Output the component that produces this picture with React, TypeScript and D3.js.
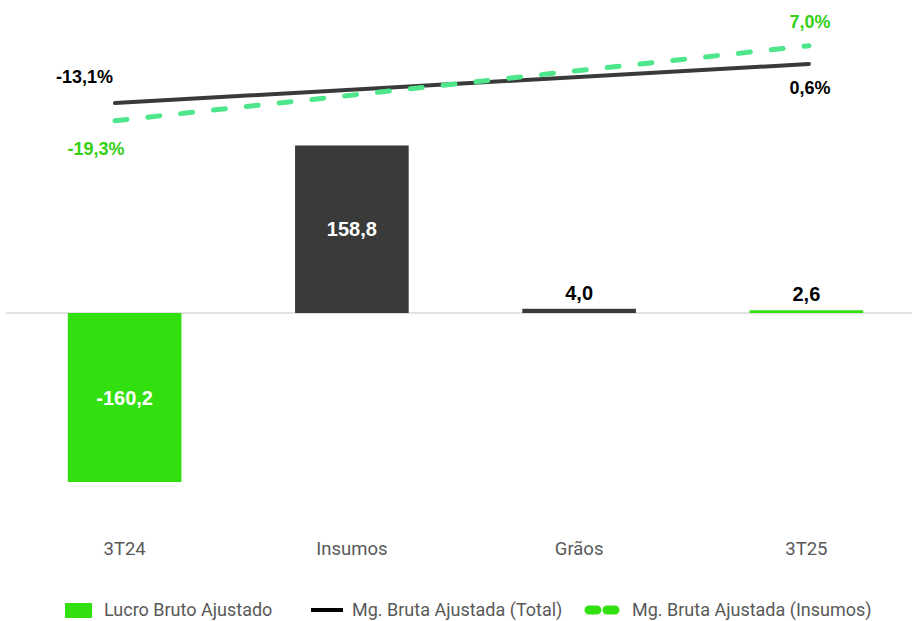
import React, { useRef, useEffect } from 'react';
import * as d3 from 'd3';

const categories = ['3T24', 'Insumos', 'Grãos', '3T25'];
const barValues = [-160.2, 158.8, 4.0, 2.6];
const barLabels = ['-160,2', '158,8', '4,0', '2,6'];
const lineCategories = ['3T24', '3T25'];
const marginTotal = [-13.1, 0.6];
const marginTotalLabels = ['-13,1%', '0,6%'];
const marginInsumos = [-19.3, 7.0];
const marginInsumosLabels = ['-19,3%', '7,0%'];
const legendLabels = ['Lucro Bruto Ajustado', 'Mg. Bruta Ajustada (Total)', 'Mg. Bruta Ajustada (Insumos)'];

const GREEN = '#33e00f';
const DARK = '#3a3a3a';
const MINT = '#4de68a';
const GRAY = '#595959';

const App = () => {
  const ref = useRef<SVGSVGElement>(null);

  useEffect(() => {
    const svg = d3.select(ref.current);
    svg.selectAll('*').remove();

    const font = 'Liberation Sans, Arial, sans-serif';
    const labelFont = 'Roboto, sans-serif';

    const x = d3.scaleBand().domain(categories).range([11, 920]).paddingInner(0.5).paddingOuter(0.25);
    const y = d3.scaleLinear().domain([-200, 200]).range([524, 102]);
    const xLine = d3.scalePoint().domain(categories).range([115, 809]);
    const yLine = d3.scaleLinear().domain([-20, 10]).range([122.7, 37.2]);

    // baseline
    svg.append('line')
      .attr('x1', 6).attr('x2', 912)
      .attr('y1', y(0)).attr('y2', y(0))
      .attr('stroke', '#d9d9d9').attr('stroke-width', 1.5);

    const colors = [GREEN, DARK, DARK, GREEN];

    svg.selectAll('rect.bar')
      .data(barValues)
      .enter()
      .append('rect')
      .attr('class', 'bar')
      .attr('x', (d, i) => x(categories[i]))
      .attr('width', x.bandwidth())
      .attr('y', (d) => Math.min(y(d), y(0)))
      .attr('height', (d) => Math.abs(y(d) - y(0)))
      .attr('fill', (d, i) => colors[i]);

    // bar labels
    barValues.forEach((v, i) => {
      const big = Math.abs(y(v) - y(0)) > 40;
      const cx = x(categories[i]) + x.bandwidth() / 2;
      svg.append('text')
        .attr('x', cx)
        .attr('y', big ? (y(v) + y(0)) / 2 + 7 : Math.min(y(v), y(0)) - 9)
        .attr('text-anchor', 'middle')
        .attr('font-family', font)
        .attr('font-weight', 'bold')
        .attr('font-size', 20)
        .attr('fill', big ? '#ffffff' : '#000000')
        .text(barLabels[i]);
    });

    // lines
    const line = d3.line<number>()
      .x((d, i) => xLine(lineCategories[i]))
      .y((d) => yLine(d));

    svg.append('path')
      .attr('d', line(marginTotal))
      .attr('fill', 'none')
      .attr('stroke', DARK)
      .attr('stroke-width', 4)
      .attr('stroke-linecap', 'round');

    svg.append('path')
      .attr('d', line(marginInsumos))
      .attr('fill', 'none')
      .attr('stroke', MINT)
      .attr('stroke-width', 5)
      .attr('stroke-linecap', 'round')
      .attr('stroke-dasharray', '12 21');

    // line labels
    const lbl = (tx, ty, txt, color, anchor) => svg.append('text')
      .attr('x', tx).attr('y', ty)
      .attr('text-anchor', anchor)
      .attr('font-family', font)
      .attr('font-weight', 'bold')
      .attr('font-size', 18)
      .attr('fill', color)
      .text(txt);

    lbl(xLine('3T24') - 2, yLine(marginTotal[0]) - 20, marginTotalLabels[0], '#000', 'end');
    lbl(xLine('3T24') - 19, yLine(marginInsumos[0]) + 34, marginInsumosLabels[0], '#33d014', 'middle');
    lbl(xLine('3T25') + 1, yLine(marginTotal[1]) + 30, marginTotalLabels[1], '#000', 'middle');
    lbl(xLine('3T25') + 1, yLine(marginInsumos[1]) - 18, marginInsumosLabels[1], '#33d014', 'middle');

    // category axis labels
    svg.append('g')
      .selectAll('text')
      .data(categories)
      .enter()
      .append('text')
      .attr('x', (d) => x(d) + x.bandwidth() / 2)
      .attr('y', 555)
      .attr('text-anchor', 'middle')
      .attr('font-family', labelFont)
      .attr('font-size', 18.5)
      .attr('fill', GRAY)
      .text((d) => d);

    // legend
    const ly = 610;
    const leg = svg.append('g');
    leg.append('rect').attr('x', 65).attr('y', ly - 7).attr('width', 27).attr('height', 15).attr('fill', GREEN);
    leg.append('line').attr('x1', 311).attr('x2', 343).attr('y1', ly).attr('y2', ly)
      .attr('stroke', '#000').attr('stroke-width', 4);
    leg.append('line').attr('x1', 589).attr('x2', 618).attr('y1', ly).attr('y2', ly)
      .attr('stroke', GREEN).attr('stroke-width', 9).attr('stroke-linecap', 'round')
      .attr('stroke-dasharray', '8 10');
    const legX = [104, 352, 632];
    leg.selectAll('text')
      .data(legendLabels)
      .enter()
      .append('text')
      .attr('x', (d, i) => legX[i])
      .attr('y', ly + 6)
      .attr('font-family', labelFont)
      .attr('font-size', 18)
      .attr('fill', GRAY)
      .text((d) => d);
  }, []);

  return (
    <svg ref={ref} width={912} height={621} style={{ position: 'absolute', left: 0, top: 0, background: '#fff' }} />
  );
};

export default App;
